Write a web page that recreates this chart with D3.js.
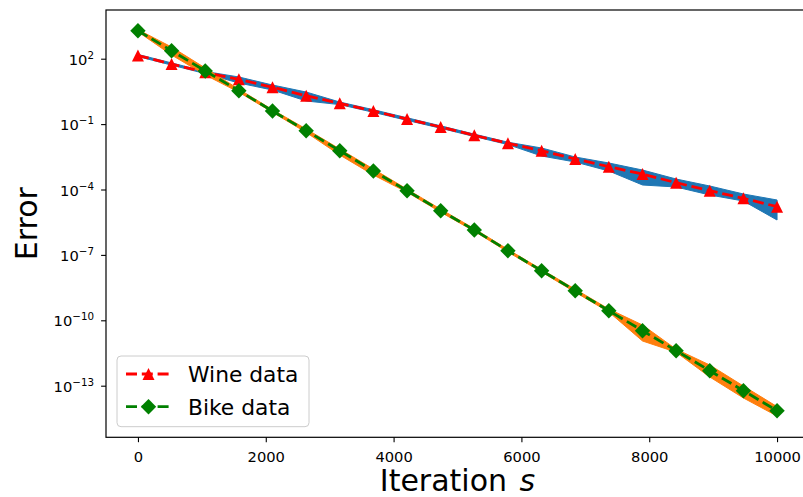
<!DOCTYPE html>
<html>
<head>
<meta charset="utf-8">
<script src="https://cdn.jsdelivr.net/npm/d3@7"></script>
<style>
  html, body { margin: 0; padding: 0; background: #ffffff; }
  svg { display: block; font-family: "DejaVu Sans", sans-serif; }
</style>
</head>
<body>
<svg id="chart" width="803" height="497"></svg>
<script>
// Iteration checkpoints (20 evenly spaced snapshots of the run)
const iterations = [0, 526, 1053, 1579, 2105, 2632, 3158, 3684, 4211, 4737,
                    5263, 5789, 6316, 6842, 7368, 7895, 8421, 8947, 9474, 10000];

// Wine data: mean error and min/max envelope over runs
const wineMean = [140, 57, 23.8, 11.3, 4.9, 2.0, 0.90, 0.40, 0.171, 0.0736,
                  0.0306, 0.01315, 0.00603, 0.002506, 0.001112, 5.14e-4, 2.05e-4, 8.81e-5, 3.94e-5, 1.63e-5];
const wineLow  = [125, 50.9, 20.7, 7.67, 3.66, 1.15, 0.783, 0.347, 0.148, 0.0646,
                  0.0269, 0.01148, 0.00344, 0.001824, 7.06e-4, 1.607e-4, 1.303e-4, 5.6e-5, 2.96e-5, 3.99e-6];
const wineHigh = [157, 64.1, 26.0, 14.5, 6.21, 2.96, 1.03, 0.457, 0.195, 0.0832,
                  0.0347, 0.01479, 0.00802, 0.0031, 1.644e-3, 7.83e-4, 3.03e-4, 1.449e-4, 6.22e-5, 3.30e-5];

// Bike data: mean error and min/max envelope over runs
const bikeMean = [1920, 233, 27.3, 3.40, 0.399, 0.0498, 0.00603, 7.06e-4, 8.81e-5, 1.067e-5,
                  1.387e-6, 1.56e-7, 1.884e-8, 2.28e-9, 2.754e-10, 3.33e-11, 4.04e-12, 4.88e-13, 5.90e-14, 7.13e-15];
const bikeLow  = [1714, 148, 17.9, 2.90, 0.348, 0.0414, 0.00383, 4.62e-4, 7.50e-5, 9.08e-6,
                  1.208e-6, 1.358e-7, 1.64e-8, 1.94e-9, 2.40e-10, 1.122e-11, 3.44e-12, 2.51e-13, 2.73e-14, 4.07e-15];
const bikeHigh = [2158, 344, 37.4, 4.00, 0.458, 0.0598, 0.00721, 8.71e-4, 1.035e-4, 1.253e-5,
                  1.592e-6, 1.79e-7, 2.16e-8, 2.68e-9, 3.30e-10, 6.08e-11, 4.74e-12, 8.91e-13, 9.70e-14, 1.1e-14];

// Axis ticks
const xTickValues = [0, 2000, 4000, 6000, 8000, 10000];
const yTickValues = [1e2, 1e-1, 1e-4, 1e-7, 1e-10, 1e-13];

// Series labels
const seriesNames = ["Wine data", "Bike data"];

const svg = d3.select("#chart");
const W = 803, H = 497;
const plot = { left: 106, right: 809, top: 10, bottom: 437.3 };

svg.append("rect").attr("width", W).attr("height", H).attr("fill", "#ffffff");

const x = d3.scaleLinear().domain([-500, 10500]).range([plot.left, plot.right]);
const y = d3.scaleLog().domain([Math.pow(10, -15.367), Math.pow(10, 4.234)]).range([plot.bottom, plot.top]);

const series = [
  { name: seriesNames[0], mean: wineMean, low: wineLow, high: wineHigh, band: "#1f77b4", line: "#ff0000", marker: "triangle" },
  { name: seriesNames[1], mean: bikeMean, low: bikeLow, high: bikeHigh, band: "#ff7f0e", line: "#008000", marker: "diamond" }
];

const defs = svg.append("defs");
defs.append("clipPath").attr("id", "plotClip")
  .append("rect").attr("x", plot.left).attr("y", plot.top)
  .attr("width", plot.right - plot.left).attr("height", plot.bottom - plot.top);

const g = svg.append("g").attr("clip-path", "url(#plotClip)");

// Envelopes first (they sit underneath every line)
const area = d3.area()
  .x((d, i) => x(iterations[i]))
  .y0(d => y(d[0]))
  .y1(d => y(d[1]));

series.forEach(s => {
  const pts = s.low.map((v, i) => [v, s.high[i]]);
  g.append("path")
    .attr("d", area(pts))
    .attr("fill", s.band)
    .attr("stroke", s.band)
    .attr("stroke-width", 1)
    .attr("stroke-linejoin", "round");
});

const line = d3.line()
  .x((d, i) => x(iterations[i]))
  .y(d => y(d));

function markerPath(kind) {
  if (kind === "triangle") {
    const h = 6;
    return `M0,${-h}L${h},${h}L${-h},${h}Z`;
  }
  const r = 7.7;
  return `M0,${-r}L${r},0L0,${r}L${-r},0Z`;
}

const dash = "11,4.8";
const lw = 2.8;

series.forEach(s => {
  g.append("path")
    .attr("d", line(s.mean))
    .attr("fill", "none")
    .attr("stroke", s.line)
    .attr("stroke-width", lw)
    .attr("stroke-dasharray", dash);
  g.selectAll(null)
    .data(s.mean)
    .enter()
    .append("path")
    .attr("d", markerPath(s.marker))
    .attr("transform", (d, i) => `translate(${x(iterations[i])},${y(d)})`)
    .attr("fill", s.line);
});

// Axes
const xAxis = d3.axisBottom(x).tickValues(xTickValues).tickSize(4.9).tickSizeOuter(0).tickFormat(d3.format("d"));
const gx = svg.append("g").attr("transform", `translate(0,${plot.bottom})`).call(xAxis);
gx.select(".domain").remove();
gx.selectAll(".tick line").attr("stroke", "#000").attr("stroke-width", 1.1);
gx.selectAll(".tick text")
  .attr("y", 25).attr("dy", null)
  .attr("fill", "#000")
  .style("font-family", "DejaVu Sans")
  .style("font-size", "14.7px");

const yAxis = d3.axisLeft(y).tickValues(yTickValues).tickSize(4.9).tickSizeOuter(0).tickFormat(() => "");
const gy = svg.append("g").attr("transform", `translate(${plot.left},0)`).call(yAxis);
gy.select(".domain").remove();
gy.selectAll(".tick line").attr("stroke", "#000").attr("stroke-width", 1.1);
gy.selectAll(".tick text").each(function(d) {
  const t = d3.select(this);
  const e = Math.round(Math.log10(d));
  t.attr("x", -12).attr("y", 5.5).attr("dy", null)
    .attr("text-anchor", "end").attr("fill", "#000")
    .style("font-family", "DejaVu Sans").style("font-size", "14.7px");
  t.append("tspan").text("10");
  t.append("tspan").attr("dy", -6).style("font-size", "10.3px")
    .text(e < 0 ? "\u2212" + Math.abs(e) : String(e));
});

// Frame (spines)
svg.append("rect")
  .attr("x", plot.left).attr("y", plot.top)
  .attr("width", plot.right - plot.left).attr("height", plot.bottom - plot.top)
  .attr("fill", "none").attr("stroke", "#000").attr("stroke-width", 1.2);

// Axis titles
svg.append("text")
  .attr("transform", `translate(37,${(plot.top + plot.bottom) / 2}) rotate(-90)`)
  .attr("text-anchor", "middle")
  .style("font-size", "30px")
  .attr("fill", "#000")
  .text("Error");

const xl = svg.append("text")
  .attr("x", (plot.left + plot.right) / 2).attr("y", 491)
  .attr("text-anchor", "middle")
  .style("font-size", "30px")
  .attr("fill", "#000");
xl.append("tspan").text("Iteration ");
xl.append("tspan").attr("dx", 3).style("font-style", "italic").text("s");

// Legend
const lg = svg.append("g");
lg.append("rect")
  .attr("x", 117).attr("y", 356).attr("width", 192).attr("height", 70.7)
  .attr("rx", 4).attr("ry", 4)
  .attr("fill", "#ffffff").attr("fill-opacity", 0.8)
  .attr("stroke", "#cccccc").attr("stroke-width", 1);

series.forEach((s, i) => {
  const cy = 374 + i * 32.7;
  lg.append("line")
    .attr("x1", 126).attr("x2", 171).attr("y1", cy).attr("y2", cy)
    .attr("stroke", s.line).attr("stroke-width", lw).attr("stroke-dasharray", dash);
  lg.append("path")
    .attr("d", markerPath(s.marker))
    .attr("transform", `translate(148.5,${cy})`)
    .attr("fill", s.line);
  lg.append("text")
    .attr("x", 188).attr("y", cy + 7.8)
    .style("font-size", "21.8px")
    .attr("fill", "#000")
    .text(s.name);
});
</script>
</body>
</html>
